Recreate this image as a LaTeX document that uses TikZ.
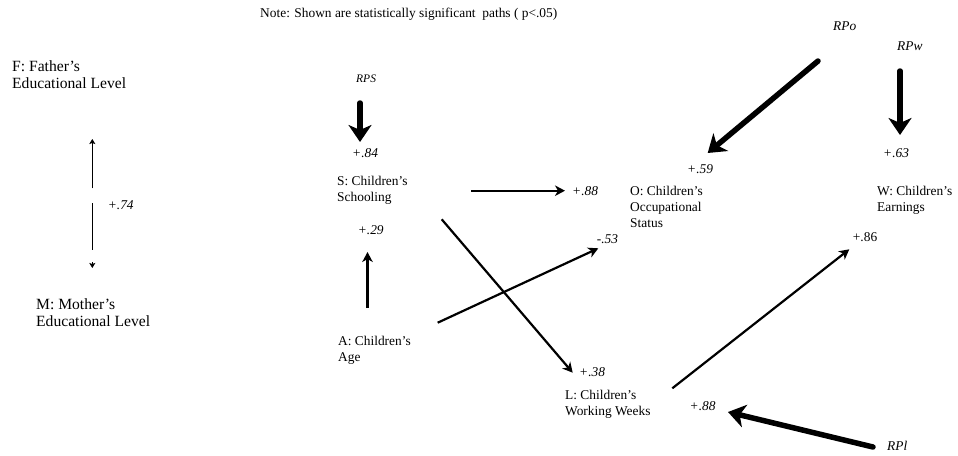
\documentclass[tikz,border=0pt]{standalone}
\usepackage{fontspec}
\setmainfont{Liberation Serif}
\usetikzlibrary{arrows.meta}
\begin{document}
\begin{tikzpicture}[x=1pt,y=-1pt,
  lbl/.style={anchor=north west, inner sep=0pt, align=left,
    font=\fontsize{13.4}{16}\selectfont},
  biglbl/.style={anchor=north west, inner sep=0pt, align=left,
    font=\fontsize{15.6}{17.5}\selectfont},
  coef/.style={anchor=base west, inner sep=0pt,
    font=\fontsize{13.4}{16}\selectfont\itshape},
  coefup/.style={anchor=base west, inner sep=0pt,
    font=\fontsize{13.4}{16}\selectfont},
  resname/.style={anchor=base west, inner sep=0pt,
    font=\fontsize{13.4}{16}\selectfont\itshape},
  pth/.style={line width=2.2pt, -{Stealth[length=10pt,width=10.5pt,inset=3pt]}},
  resid/.style={line width=5.5pt, line cap=round,
    -{Stealth[length=17pt,width=23pt,inset=5pt]}},
  corr/.style={line width=0.9pt},
  corrtip/.style={line width=0.9pt, -{Stealth[length=5pt,width=6pt,inset=1pt]}}
]
\useasboundingbox (0,0) rectangle (958,455);

% note
\node[coefup, anchor=base west] (note) at (260,17)
  {Note: Shown are statistically significant\ \ paths ( p<.05)};

% variables
\node[biglbl] (F) at (12,60.3) {F: Father's\\Educational Level};
\node[biglbl] (M) at (36,298.3) {M: Mother's\\Educational Level};
\node[lbl] (S) at (337,175.8) {S: Children's\\Schooling};
\node[lbl] (A) at (338,335.8) {A: Children's\\Age};
\node[lbl] (O) at (630,185.8) {O: Children's\\Occupational\\Status};
\node[lbl] (W) at (877,185.8) {W: Children's\\Earnings};
\node[lbl] (L) at (565,389.8) {L: Children's\\Working Weeks};

% residual terms
\node[resname, font=\fontsize{11.5}{14}\selectfont\itshape] (rps) at (356,82) {RPS};
\node[resname] (rpo) at (833,30) {RPo};
\node[resname] (rpw) at (897,50) {RPw};
\node[resname] (rpl) at (887,450) {RPl};

% coefficients
\node[coef] (c84) at (352,157) {+.84};
\node[coef] (c29) at (357.7,234) {+.29};
\node[coef] (c74) at (107.7,209) {+.74};
\node[coef] (c88a) at (572,195) {+.88};
\node[coef] (c59) at (687,173) {+.59};
\node[coef] (c63) at (883,157) {+.63};
\node[coefup] (c86) at (852.7,241.7) {+.86};
\node[coef] (c53) at (596.7,243) {-.53};
\node[coef] (c38) at (579,376.7) {+.38};
\node[coef] (c88b) at (689.5,410) {+.88};

% connector end points
\coordinate (fmTop) at (92.3,139);
\coordinate (fmA) at (92.3,188.3);
\coordinate (fmB) at (92.3,203.3);
\coordinate (fmC) at (92.3,250);
\coordinate (fmD) at (92.3,262);
\coordinate (fmE) at (92.3,268);

\coordinate (rpsA) at (360,103);
\coordinate (rpsB) at (360,142);
\coordinate (rpoA) at (818,61);
\coordinate (rpoB) at (707.7,153);
\coordinate (rpwA) at (900,71);
\coordinate (rpwB) at (900,135);
\coordinate (rplA) at (873,447);
\coordinate (rplB) at (728,412);

\coordinate (asA) at (367.5,308);
\coordinate (asB) at (367.5,252);
\coordinate (soA) at (471,190.7);
\coordinate (soB) at (565,190.7);
\coordinate (aoA) at (437.7,322.7);
\coordinate (aoB) at (598.3,248.3);
\coordinate (slA) at (441.7,219.3);
\coordinate (slB) at (572.7,372.7);
\coordinate (lwA) at (672.3,388.3);
\coordinate (lwB) at (849.3,249.3);

% F <-> M correlation
\draw[corrtip] (fmA) -- (fmTop);
\draw[corr] (fmB) -- (fmC);
\draw[corrtip] (fmD) -- (fmE);

% residual paths
\draw[resid] (rpsA) -- (rpsB);
\draw[resid] (rpoA) -- (rpoB);
\draw[resid] (rpwA) -- (rpwB);
\draw[resid] (rplA) -- (rplB);

% structural paths
\draw[pth] (asA) -- (asB);
\draw[pth] (soA) -- (soB);
\draw[pth] (aoA) -- (aoB);
\draw[pth] (slA) -- (slB);
\draw[pth] (lwA) -- (lwB);
\end{tikzpicture}
\end{document}
